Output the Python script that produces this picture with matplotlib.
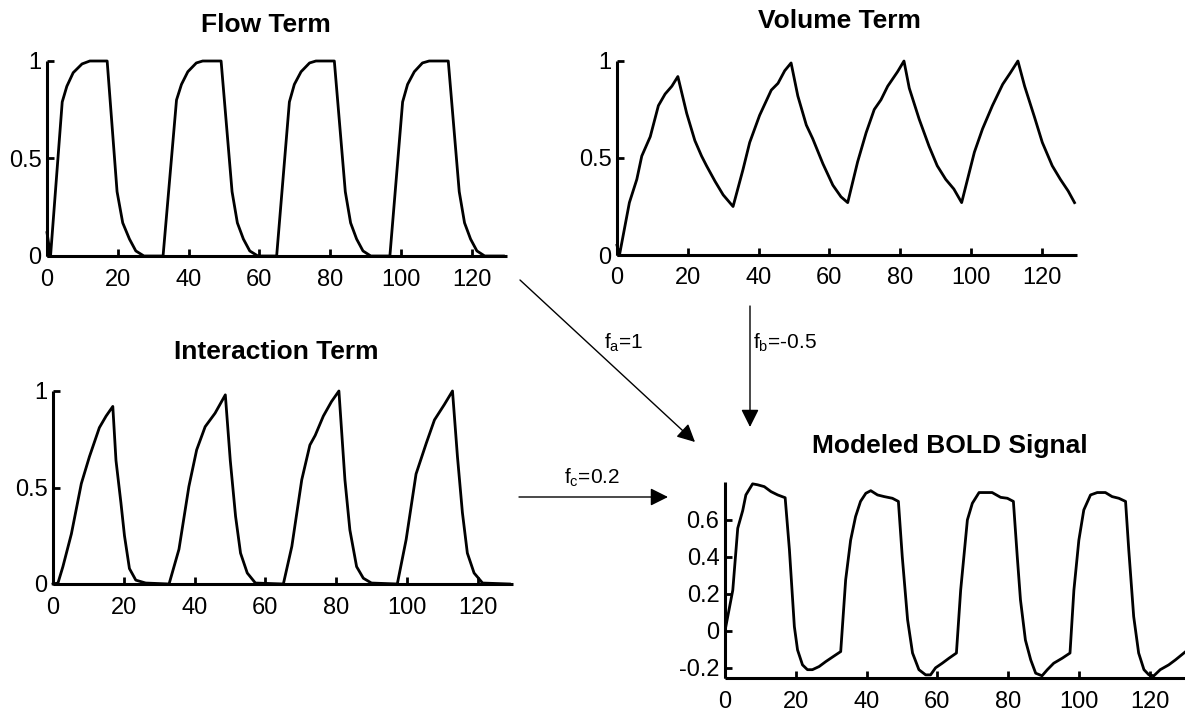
import numpy as np
import matplotlib
matplotlib.use('Agg')
import matplotlib.pyplot as plt

plt.rcParams['font.family'] = ['Liberation Sans', 'DejaVu Sans']
plt.rcParams['mathtext.default'] = 'regular'

# flow term
flow_x = [0, 1.0, 4.3, 5.6, 7.4, 9.9, 12.1, 17.0, 19.8, 21.4, 23.3, 25.1, 27.4,
          32.8, 36.6, 38.0, 39.8, 42.2, 44.0, 49.2, 52.3, 53.8, 55.5, 57.3, 59.6,
          64.9, 68.5, 69.9, 71.8, 74.2, 76.0, 81.2, 84.3, 85.8, 87.5, 89.3, 91.5,
          96.9, 100.5, 101.9, 103.8, 106.1, 108.0, 113.4, 116.5, 118.0, 119.7, 121.5, 123.7, 129.0]
flow_y = [0.12, 0, 0.79, 0.87, 0.94, 0.985, 1.0, 1.0, 0.33, 0.17, 0.087, 0.026, 0,
          0, 0.80, 0.88, 0.945, 0.99, 1.0, 1.0, 0.33, 0.17, 0.087, 0.026, 0,
          0, 0.79, 0.88, 0.945, 0.99, 1.0, 1.0, 0.33, 0.17, 0.087, 0.026, 0,
          0, 0.79, 0.88, 0.945, 0.99, 1.0, 1.0, 0.33, 0.17, 0.087, 0.026, 0, 0]

# volume term
vol_x = [0, 0.7, 3.5, 5.6, 7.0, 9.4, 11.7, 13.6, 15.5, 17.2,
         19.7, 22.0, 23.9, 25.3, 27.7, 30.0, 32.8,
         35.6, 37.5, 40.3, 43.6, 45.5, 47.4, 49.2,
         51.1, 53.5, 55.3, 58.2, 61.0, 63.3, 65.2,
         68.0, 70.4, 72.7, 74.6, 76.5, 79.3, 81.1,
         82.6, 85.4, 88.2, 90.5, 92.9, 95.2, 97.4,
         101.0, 103.3, 106.1, 109.0, 111.2, 113.3,
         115.2, 118.0, 120.2, 123.0, 125.3, 127.5, 129.3]
vol_y = [0.05, 0, 0.27, 0.39, 0.51, 0.61, 0.77, 0.83, 0.87, 0.92,
         0.73, 0.59, 0.51, 0.46, 0.38, 0.31, 0.25,
         0.44, 0.58, 0.72, 0.85, 0.885, 0.95, 0.99,
         0.82, 0.67, 0.60, 0.47, 0.36, 0.30, 0.27,
         0.48, 0.63, 0.75, 0.80, 0.87, 0.945, 1.0,
         0.86, 0.70, 0.56, 0.46, 0.39, 0.34, 0.27,
         0.53, 0.65, 0.77, 0.88, 0.94, 1.0,
         0.87, 0.71, 0.58, 0.46, 0.39, 0.33, 0.27]

# interaction term
int_x = [0, 1.4, 2.8, 5.2, 8.0, 10.3, 13.1, 15.0, 16.9,
         17.8, 19.2, 20.2, 21.6, 23.4, 26.2,
         32.8, 35.6, 38.4, 40.6, 43.0, 45.8, 48.7,
         50.1, 51.6, 53.0, 54.9, 57.2,
         65.1, 67.5, 70.3, 72.6, 74.1, 76.4, 78.7, 80.8,
         82.5, 83.9, 85.8, 87.7, 90.0,
         97.3, 99.8, 102.6, 105.5, 107.8, 110.6, 112.9,
         114.3, 115.7, 117.1, 119.0, 121.4, 129.0]
int_y = [0, 0.005, 0.09, 0.26, 0.52, 0.66, 0.81, 0.87, 0.92,
         0.64, 0.42, 0.25, 0.08, 0.02, 0.005,
         0, 0.18, 0.505, 0.695, 0.815, 0.885, 0.98,
         0.64, 0.35, 0.16, 0.057, 0.005,
         0, 0.195, 0.54, 0.72, 0.77, 0.87, 0.945, 1.0,
         0.54, 0.28, 0.09, 0.03, 0.005,
         0, 0.23, 0.57, 0.73, 0.85, 0.93, 1.0,
         0.66, 0.37, 0.16, 0.057, 0.005, 0]

# modeled BOLD signal
bold_x = [0, 2.2, 3.6, 5.0, 5.9, 7.8, 9.2, 11.1, 13.0, 14.9, 17.0,
          18.2, 19.6, 20.5, 21.9, 23.3, 24.7, 26.6, 28.5, 30.9, 32.7,
          34.1, 35.5, 36.9, 38.3, 39.8, 41.2, 43.1, 45.0, 47.3, 49.0,
          50.1, 51.6, 53.0, 54.8, 56.7, 58.1, 59.5, 61.4, 63.3, 65.4,
          66.6, 68.5, 69.9, 71.8, 75.5, 77.9, 79.8, 81.5,
          82.6, 83.5, 84.9, 86.4, 87.8, 89.6, 91.1, 92.9, 95.3, 97.5,
          98.6, 100.0, 101.4, 103.3, 105.2, 107.5, 109.4, 111.3, 113.2,
          114.1, 115.5, 116.9, 118.4, 119.8, 121.2, 123.0, 125.4, 127.3, 130.0]
bold_y = [0, 0.22, 0.555, 0.65, 0.735, 0.795, 0.79, 0.78, 0.753, 0.735, 0.72,
          0.44, 0.023, -0.103, -0.184, -0.21, -0.21, -0.193, -0.166, -0.135, -0.112,
          0.276, 0.49, 0.618, 0.70, 0.744, 0.758, 0.735, 0.726, 0.717, 0.70,
          0.40, 0.06, -0.12, -0.21, -0.238, -0.238, -0.20, -0.175, -0.148, -0.12,
          0.22, 0.60, 0.69, 0.748, 0.748, 0.722, 0.717, 0.70,
          0.40, 0.168, -0.05, -0.157, -0.229, -0.243, -0.21, -0.175, -0.148, -0.12,
          0.22, 0.49, 0.654, 0.735, 0.748, 0.748, 0.726, 0.717, 0.70,
          0.44, 0.077, -0.12, -0.21, -0.238, -0.243, -0.21, -0.184, -0.157, -0.115]

xticks = [0, 20, 40, 60, 80, 100, 120]

fig = plt.figure(figsize=(11.85, 7.13), dpi=100)

W, H = 1185.0, 713.0


def make_ax(left, top, bottom, width=460):
    return fig.add_axes([left / W, 1 - bottom / H, width / W, (bottom - top) / H])


def style(ax, ylim, yticks, ylabels):
    ax.set_xlim(0, 130)
    ax.set_ylim(*ylim)
    ax.set_xticks(xticks)
    ax.set_xticklabels([str(t) for t in xticks])
    ax.set_yticks(yticks)
    ax.set_yticklabels(ylabels)
    for s in ['top', 'right']:
        ax.spines[s].set_visible(False)
    for s in ['left', 'bottom']:
        ax.spines[s].set_linewidth(2.2)
        ax.spines[s].set_capstyle('butt')
    ax.tick_params(direction='in', length=5, width=2, labelsize=17, color='black')
    ax.tick_params(axis='x', pad=9)
    ax.tick_params(axis='y', pad=4)
    ax.patch.set_alpha(0)


def title(ax, text, cx, cy):
    fig.text(cx / W, 1 - cy / H, text, fontsize=19, fontweight='bold',
             ha='center', va='center')


ax1 = make_ax(47, 61, 256)
ax1.plot(flow_x, flow_y, color='black', lw=2.0, clip_on=False)
style(ax1, (0, 1), [0, 0.5, 1], ['0', '0.5', '1'])
title(ax1, 'Flow Term', 266, 25)

ax2 = make_ax(617, 61, 255)
ax2.plot(vol_x, vol_y, color='black', lw=2.0, clip_on=False)
style(ax2, (0, 1), [0, 0.5, 1], ['0', '0.5', '1'])
title(ax2, 'Volume Term', 839, 21)

ax3 = make_ax(53, 391, 584)
ax3.plot(int_x, int_y, color='black', lw=2.0, clip_on=False)
style(ax3, (0, 1), [0, 0.5, 1], ['0', '0.5', '1'])
title(ax3, 'Interaction Term', 276, 352)

ax4 = make_ax(725, 482, 678)
ax4.plot(bold_x, bold_y, color='black', lw=2.0)
style(ax4, (-0.255, 0.805), [-0.2, 0, 0.2, 0.4, 0.6], ['-0.2', '0', '0.2', '0.4', '0.6'])
title(ax4, 'Modeled BOLD Signal', 950, 446)

# arrows between panels (figure pixel positions)
arrows = [((520, 280), (695, 442)), ((750, 306), (750, 427)), ((519, 497), (668, 497))]
for (x0, y0), (x1, y1) in arrows:
    fig.add_artist(matplotlib.patches.FancyArrowPatch(
        (x0 / W, 1 - y0 / H), (x1 / W, 1 - y1 / H), transform=fig.transFigure,
        arrowstyle='-|>,head_length=0.4,head_width=0.2', mutation_scale=27,
        color='black', lw=1.0, shrinkA=0, shrinkB=0))

fig.text(624 / W, 1 - 343 / H, '$f_a$=1', fontsize=15, ha='center', va='center')
fig.text(753 / W, 1 - 343 / H, '$f_b$=-0.5', fontsize=15, ha='left', va='center')
fig.text(592 / W, 1 - 478 / H, '$f_c$=0.2', fontsize=15, ha='center', va='center')

fig.savefig('out.png', dpi=100)
